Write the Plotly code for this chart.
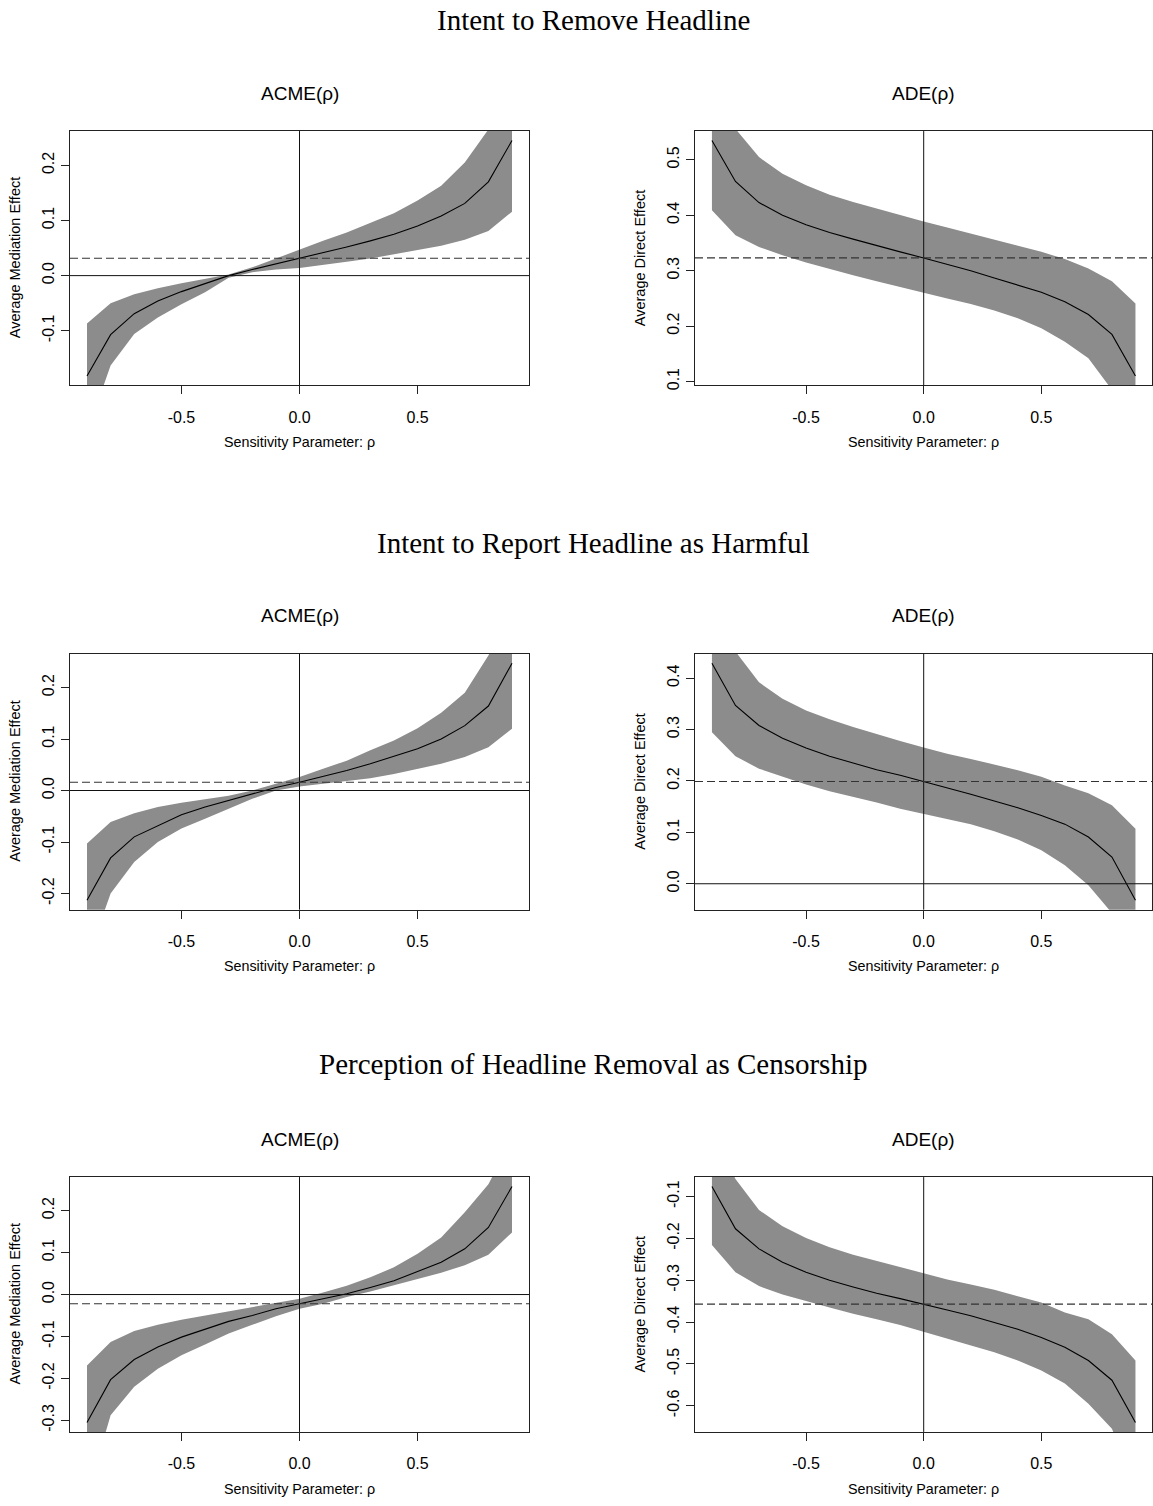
import math
import plotly.graph_objects as go

# ---------------- data ----------------
rho = [-0.9, -0.8, -0.7, -0.6, -0.5, -0.4, -0.3, -0.2, -0.1, 0.0,
       0.1, 0.2, 0.3, 0.4, 0.5, 0.6, 0.7, 0.8, 0.9]

section_titles = ["Intent to Remove Headline",
                  "Intent to Report Headline as Harmful",
                  "Perception of Headline Removal as Censorship"]

# Intent to Remove Headline
remove_acme_est = [-0.182, -0.107, -0.069, -0.046, -0.029, -0.014, 0.000, 0.011, 0.021, 0.0315,
                   0.042, 0.052, 0.063, 0.075, 0.090, 0.108, 0.131, 0.170, 0.245]
remove_acme_up = [-0.087, -0.050, -0.034, -0.023, -0.014, -0.006, 0.002, 0.015, 0.031, 0.048,
                  0.063, 0.078, 0.095, 0.113, 0.136, 0.163, 0.205, 0.265, 0.370]
remove_acme_lo = [-0.285, -0.163, -0.106, -0.076, -0.052, -0.030, -0.004, 0.006, 0.011, 0.014,
                  0.019, 0.025, 0.031, 0.039, 0.046, 0.054, 0.065, 0.081, 0.116]

remove_ade_est = [0.535, 0.461, 0.423, 0.400, 0.383, 0.369, 0.357, 0.345, 0.334, 0.323,
                  0.312, 0.300, 0.287, 0.274, 0.261, 0.244, 0.221, 0.185, 0.110]
remove_ade_up = [0.660, 0.556, 0.505, 0.475, 0.454, 0.437, 0.424, 0.412, 0.400, 0.389,
                 0.378, 0.367, 0.357, 0.346, 0.334, 0.321, 0.304, 0.281, 0.241]
remove_ade_lo = [0.409, 0.364, 0.343, 0.328, 0.315, 0.303, 0.292, 0.281, 0.271, 0.260,
                 0.250, 0.240, 0.228, 0.214, 0.196, 0.172, 0.142, 0.085, -0.020]

# Intent to Report Headline as Harmful
report_acme_est = [-0.213, -0.131, -0.090, -0.068, -0.047, -0.032, -0.019, -0.007, 0.006, 0.016,
                   0.027, 0.039, 0.052, 0.066, 0.081, 0.100, 0.126, 0.164, 0.247]
report_acme_up = [-0.103, -0.061, -0.044, -0.032, -0.024, -0.017, -0.010, 0.000, 0.013, 0.026,
                  0.042, 0.058, 0.078, 0.097, 0.121, 0.151, 0.190, 0.262, 0.360]
report_acme_lo = [-0.330, -0.200, -0.139, -0.100, -0.074, -0.055, -0.036, -0.016, 0.000, 0.008,
                  0.013, 0.018, 0.024, 0.032, 0.042, 0.052, 0.065, 0.084, 0.120]

report_ade_est = [0.429, 0.347, 0.308, 0.283, 0.264, 0.248, 0.235, 0.222, 0.211, 0.199,
                  0.187, 0.174, 0.161, 0.148, 0.133, 0.116, 0.091, 0.052, -0.032]
report_ade_up = [0.560, 0.452, 0.392, 0.360, 0.337, 0.320, 0.305, 0.291, 0.278, 0.265,
                 0.253, 0.243, 0.232, 0.221, 0.208, 0.191, 0.176, 0.153, 0.107]
report_ade_lo = [0.295, 0.248, 0.224, 0.208, 0.193, 0.180, 0.169, 0.158, 0.146, 0.135,
                 0.126, 0.116, 0.102, 0.086, 0.065, 0.036, -0.003, -0.057, -0.170]

# Perception of Headline Removal as Censorship
censor_acme_est = [-0.305, -0.203, -0.155, -0.125, -0.1015, -0.082, -0.064, -0.050, -0.034, -0.022,
                   -0.010, 0.002, 0.017, 0.033, 0.055, 0.077, 0.109, 0.160, 0.2575]
censor_acme_up = [-0.169, -0.113, -0.087, -0.072, -0.060, -0.050, -0.040, -0.030, -0.020, -0.010,
                  0.005, 0.021, 0.041, 0.065, 0.097, 0.136, 0.196, 0.263, 0.370]
censor_acme_lo = [-0.480, -0.288, -0.220, -0.177, -0.145, -0.119, -0.093, -0.072, -0.052, -0.034,
                  -0.022, -0.006, 0.007, 0.021, 0.037, 0.052, 0.070, 0.095, 0.148]

censor_ade_est = [-0.076, -0.177, -0.225, -0.257, -0.281, -0.300, -0.316, -0.331, -0.344, -0.357,
                  -0.371, -0.385, -0.401, -0.417, -0.437, -0.460, -0.492, -0.539, -0.640]
censor_ade_up = [0.060, -0.058, -0.132, -0.171, -0.199, -0.221, -0.239, -0.254, -0.269, -0.283,
                 -0.298, -0.310, -0.323, -0.338, -0.353, -0.377, -0.393, -0.429, -0.492]
censor_ade_lo = [-0.216, -0.281, -0.314, -0.334, -0.349, -0.365, -0.380, -0.393, -0.407, -0.423,
                 -0.440, -0.456, -0.472, -0.492, -0.516, -0.547, -0.595, -0.655, -0.790]

panel_titles = ["ACME(\u03c1)", "ADE(\u03c1)"]
y_titles = ["Average Mediation Effect", "Average Direct Effect"]
x_title = "Sensitivity Parameter: \u03c1"
x_ticks = [-0.5, 0.0, 0.5]
x_tick_labels = ["-0.5", "0.0", "0.5"]
y_tick_step = 0.1

panels = [
    (remove_acme_est, remove_acme_up, remove_acme_lo),
    (remove_ade_est, remove_ade_up, remove_ade_lo),
    (report_acme_est, report_acme_up, report_acme_lo),
    (report_ade_est, report_ade_up, report_ade_lo),
    (censor_acme_est, censor_acme_up, censor_acme_lo),
    (censor_ade_est, censor_ade_up, censor_ade_lo),
]

# ---------------- layout geometry (pixels) ----------------
W, H = 1153, 1506
col_px = [(70, 529), (695, 1152.4)]
row_px = [(131.5, 386.7), (656.0, 912.7), (1181.0, 1436.7)]
section_y_px = [20, 545, 1068]
panel_title_dy = 38
x_title_dy = 57
y_title_x_px = [15, 640]
section_center_x = 593

SANS = "Liberation Sans, Arial, sans-serif"
SERIF = "Liberation Serif, Times New Roman, serif"
FILL = "#8c8c8c"
FRAME = "#222222"

fig = go.Figure()
layout = dict(width=W, height=H, margin=dict(l=0, r=0, t=0, b=0),
              paper_bgcolor="white", plot_bgcolor="white", showlegend=False)
annotations = []
shapes = []


def px_x(p):
    return p / W


def px_y(p):
    return 1 - p / H


xmin, xmax = min(rho), max(rho)
xpad = 0.04 * (xmax - xmin)

for i, (est, up, lo) in enumerate(panels):
    r, c = divmod(i, 2)
    n = i + 1
    xa = "x" if n == 1 else f"x{n}"
    ya = "y" if n == 1 else f"y{n}"
    xk = "xaxis" if n == 1 else f"xaxis{n}"
    yk = "yaxis" if n == 1 else f"yaxis{n}"

    lo_span = min(est)
    hi_span = max(est)
    ypad = 0.04 * (hi_span - lo_span)
    yr = [lo_span - ypad, hi_span + ypad]
    k0 = math.ceil(yr[0] / y_tick_step - 1e-9)
    k1 = math.floor(yr[1] / y_tick_step + 1e-9)
    yvals = [round(k * y_tick_step, 1) + 0.0 for k in range(k0, k1 + 1)]
    ytext = [f"{v:.1f}" for v in yvals]

    fig.add_trace(go.Scatter(x=rho + rho[::-1], y=up + lo[::-1], fill="toself",
                             fillcolor=FILL, line=dict(width=0), mode="lines",
                             hoverinfo="skip", xaxis=xa, yaxis=ya))
    fig.add_trace(go.Scatter(x=rho, y=est, mode="lines",
                             line=dict(color="black", width=1.1),
                             xaxis=xa, yaxis=ya))

    x0, x1 = col_px[c]
    t0, t1 = row_px[r]
    common = dict(showline=True, mirror=True, linecolor=FRAME, linewidth=1,
                  ticks="outside", ticklen=8, tickcolor=FRAME, tickwidth=1,
                  showgrid=False, zeroline=False,
                  tickfont=dict(family=SANS, size=16, color="black"))
    layout[xk] = dict(domain=[px_x(x0), px_x(x1)], range=[xmin - xpad, xmax + xpad],
                      anchor=ya, tickvals=x_ticks, ticktext=x_tick_labels,
                      ticklabelstandoff=9, **common)
    layout[yk] = dict(domain=[px_y(t1), px_y(t0)], range=yr, anchor=xa,
                      tickvals=yvals, ticktext=ytext, tickangle=-90,
                      ticklabelstandoff=1, **common)

    # reference lines (drawn above the band, as in the original)
    if yr[0] < 0 < yr[1]:
        shapes.append(dict(type="line", xref=f"{xa} domain", yref=ya, x0=0, x1=1,
                           y0=0, y1=0, line=dict(color="#111111", width=1), layer="above"))
    shapes.append(dict(type="line", xref=xa, yref=f"{ya} domain", x0=0, x1=0,
                       y0=0, y1=1, line=dict(color="#111111", width=1), layer="above"))
    est0 = est[rho.index(0.0)]
    shapes.append(dict(type="line", xref=f"{xa} domain", yref=ya, x0=0, x1=1,
                       y0=est0, y1=est0,
                       line=dict(color="#333333", width=1.2, dash="8px,4px"), layer="above"))

    cx = (x0 + x1) / 2
    annotations.append(dict(text=panel_titles[c], x=px_x(cx), y=px_y(t0 - panel_title_dy),
                            xref="paper", yref="paper", showarrow=False,
                            xanchor="center", yanchor="middle",
                            font=dict(family=SANS, size=19, color="black")))
    annotations.append(dict(text=x_title, x=px_x(cx), y=px_y(t1 + x_title_dy),
                            xref="paper", yref="paper", showarrow=False,
                            xanchor="center", yanchor="middle",
                            font=dict(family=SANS, size=14.3, color="black")))
    annotations.append(dict(text=y_titles[c], x=px_x(y_title_x_px[c]), y=px_y((t0 + t1) / 2),
                            xref="paper", yref="paper", showarrow=False, textangle=-90,
                            xanchor="center", yanchor="middle",
                            font=dict(family=SANS, size=14.5, color="black")))

for r, title in enumerate(section_titles):
    annotations.append(dict(text=title, x=px_x(section_center_x), y=px_y(section_y_px[r]),
                            xref="paper", yref="paper", showarrow=False,
                            xanchor="center", yanchor="middle",
                            font=dict(family=SERIF, size=29, color="black")))

layout["annotations"] = annotations
layout["shapes"] = shapes
fig.update_layout(**layout)
fig.write_html("out.html", config={"displayModeBar": False},
               post_script="document.body.style.margin='0';document.body.style.padding='0';")
